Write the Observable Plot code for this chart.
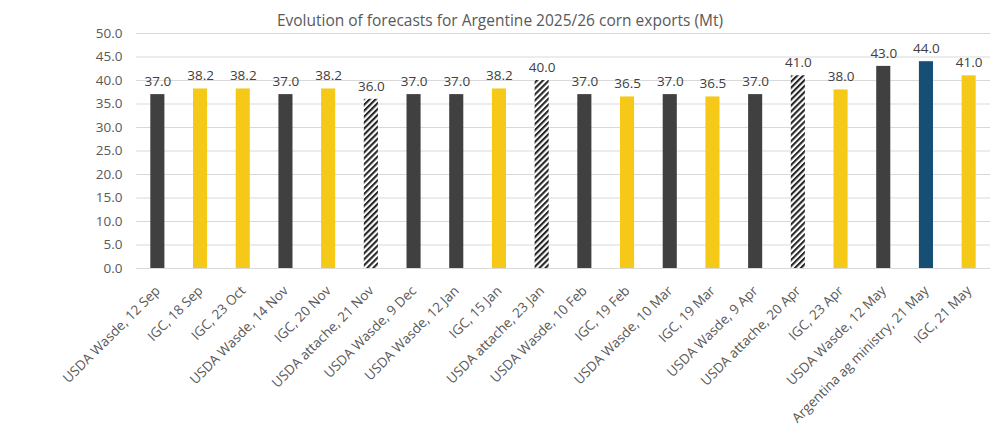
<!DOCTYPE html>
<html>
<head>
<meta charset="utf-8">
<script src="https://cdn.jsdelivr.net/npm/d3@7"></script>
<script src="https://cdn.jsdelivr.net/npm/@observablehq/plot@0.6"></script>
<style>
  html, body { margin: 0; padding: 0; background: #fff; }
  #title { height: 22px; line-height: 41px; text-align: center; font-family: "Open Sans", sans-serif; font-size: 15.5px; color: #595959; width: 1000px; overflow: visible; white-space: nowrap; }
  #chart svg { display: block; }
</style>
</head>
<body>
<div id="title">Evolution of forecasts for Argentine 2025/26 corn exports (Mt)</div>
<div id="chart"></div>
<script>
const labels = [
  "USDA Wasde, 12 Sep", "IGC, 18 Sep", "IGC, 23 Oct", "USDA Wasde, 14 Nov", "IGC, 20 Nov",
  "USDA attache, 21 Nov", "USDA Wasde, 9 Dec", "USDA Wasde, 12 Jan", "IGC, 15 Jan", "USDA attache, 23 Jan",
  "USDA Wasde, 10 Feb", "IGC, 19 Feb", "USDA Wasde, 10 Mar", "IGC, 19 Mar", "USDA Wasde, 9 Apr",
  "USDA attache, 20 Apr", "IGC, 23 Apr", "USDA Wasde, 12 May", "Argentina ag ministry, 21 May", "IGC, 21 May"
];
const values = [37.0, 38.2, 38.2, 37.0, 38.2, 36.0, 37.0, 37.0, 38.2, 40.0,
                37.0, 36.5, 37.0, 36.5, 37.0, 41.0, 38.0, 43.0, 44.0, 41.0];
const sources = ["USDA", "IGC", "IGC", "USDA", "IGC", "Attache", "USDA", "USDA", "IGC", "Attache",
                 "USDA", "IGC", "USDA", "IGC", "USDA", "Attache", "IGC", "USDA", "Ministry", "IGC"];
const yTicks = [0, 5, 10, 15, 20, 25, 30, 35, 40, 45, 50];
const sourceFill = {USDA: "#404040", IGC: "#F6C918", Attache: "url(#hatch)", Ministry: "#174E73"};

const data = labels.map((l, i) => ({label: l, value: values[i], source: sources[i]}));
const font = "'Open Sans', sans-serif";

const chart = Plot.plot({
  width: 1000,
  height: 407,
  marginTop: 11,
  marginLeft: 136,
  marginRight: 10,
  marginBottom: 161,
  style: {fontFamily: font, fontSize: "13px", color: "#595959", background: "#fff"},
  x: {domain: labels, paddingInner: 0.67, paddingOuter: 0.335, round: false, label: null},
  y: {domain: [0, 50], label: null},
  color: {type: "identity"},
  marks: [
    Plot.gridY(yTicks, {stroke: "#d9d9d9", strokeOpacity: 1}),
    Plot.axisY(yTicks, {tickSize: 0, tickPadding: 14, tickFormat: d3.format(".1f"), fontSize: 13.5, fill: "#595959"}),
    Plot.axisX({tickSize: 0, tickRotate: -45, tickPadding: 20, fontSize: 13.5, fill: "#595959", label: null}),
    Plot.barY(data, {x: "label", y: "value", fill: d => sourceFill[d.source]}),
    Plot.text(data, {x: "label", y: "value", text: d => d3.format(".1f")(d.value), dy: -13, fontSize: 13.5, fill: "#404040"})
  ]
});

const svg = d3.select(chart);
const defs = svg.insert("defs", ":first-child");
const pat = defs.append("pattern")
  .attr("id", "hatch")
  .attr("patternUnits", "userSpaceOnUse")
  .attr("width", 4.2).attr("height", 4.2)
  .attr("patternTransform", "rotate(45)");
pat.append("rect").attr("width", 4.2).attr("height", 4.2).attr("fill", "#fff");
pat.append("rect").attr("width", 2.1).attr("height", 4.2).attr("fill", "#262626");

document.getElementById("chart").appendChild(chart);
</script>
</body>
</html>
